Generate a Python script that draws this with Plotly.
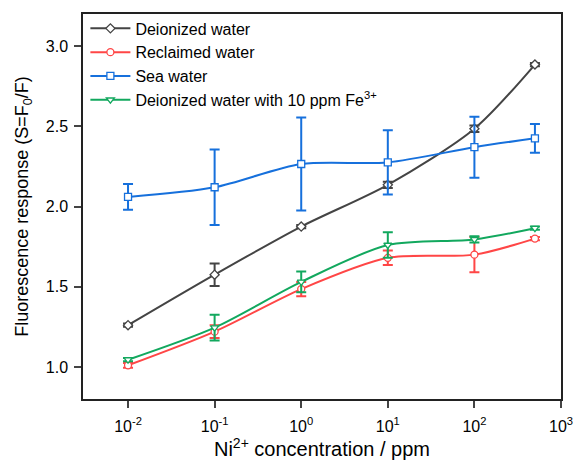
import plotly.graph_objects as go

conc = [0.01, 0.1, 1, 10, 100, 500]

deion = [1.26, 1.575, 1.875, 2.135, 2.485, 2.885]
deion_err = [0.01, 0.07, 0.01, 0.02, 0.02, 0.01]

reclaimed = [1.01, 1.22, 1.485, 1.68, 1.70, 1.80]
reclaimed_err = [0.015, 0.04, 0.045, 0.045, 0.11, 0.01]

sea = [2.06, 2.12, 2.265, 2.275, 2.37, 2.425]
sea_err = [0.08, 0.235, 0.29, 0.2, 0.19, 0.09]

fe = [1.045, 1.245, 1.53, 1.76, 1.795, 1.865]
fe_err = [0.01, 0.08, 0.065, 0.08, 0.02, 0.01]

names = ["Deionized water", "Reclaimed water", "Sea water",
         "Deionized water with 10 ppm Fe<sup>3+</sup>"]
colors = ["#444444", "#ff4646", "#1670dc", "#12a85e"]
symbols = ["diamond", "circle", "square", "triangle-down"]
series = [(deion, deion_err), (reclaimed, reclaimed_err), (sea, sea_err), (fe, fe_err)]

fig = go.Figure()
for (y, e), n, c, s in zip(series, names, colors, symbols):
    fig.add_trace(go.Scatter(
        x=conc, y=y, name=n, mode="lines+markers",
        line=dict(color=c, width=2, shape="spline", smoothing=0.8),
        marker=dict(symbol=s, size=7, color="white", line=dict(color=c, width=1.3)),
        error_y=dict(type="data", array=e, visible=True, color=c, thickness=2, width=5),
    ))

xt = [0.01, 0.1, 1, 10, 100, 1000]
xtt = ["10<sup>-2</sup>", "10<sup>-1</sup>", "10<sup>0</sup>", "10<sup>1</sup>",
       "10<sup>2</sup>", "10<sup>3</sup>"]

fig.update_layout(
    width=573, height=461,
    margin=dict(l=83, r=12, t=13, b=62),
    paper_bgcolor="white", plot_bgcolor="white",
    font=dict(family="Liberation Sans, Arial, sans-serif", color="black", size=16),
    showlegend=True,
    legend=dict(x=0.005, y=1.004, xanchor="left", yanchor="top",
                bgcolor="rgba(0,0,0,0)", font=dict(size=16), tracegroupgap=0,
                itemwidth=40),
    xaxis=dict(type="log", range=[-2.52, 3], tickvals=xt, ticktext=xtt,
               ticks="outside", ticklen=7, tickwidth=1.5, showline=True,
               linecolor="#222", linewidth=1.5, mirror=True, showgrid=False,
               zeroline=False, tickfont=dict(size=16), ticklabelstandoff=5,
               ticklabeloverflow="allow", automargin=False,
               title=dict(text="Ni<sup>2+</sup> concentration / ppm", font=dict(size=20),
                          standoff=8)),
    yaxis=dict(range=[0.8, 3.2], tickvals=[1.0, 1.5, 2.0, 2.5, 3.0],
               ticktext=["1.0", "1.5", "2.0", "2.5", "3.0"],
               ticks="outside", ticklen=7, tickwidth=1.5, showline=True,
               linecolor="#222", linewidth=1.5, mirror=True, showgrid=False,
               zeroline=False, tickfont=dict(size=16), ticklabelstandoff=3,
               ticklabeloverflow="allow", automargin=False,
               title=dict(text="Fluorescence response (S=F<sub>0</sub>/F)", font=dict(size=18),
                          standoff=12)),
)

fig.write_html("out.html")
